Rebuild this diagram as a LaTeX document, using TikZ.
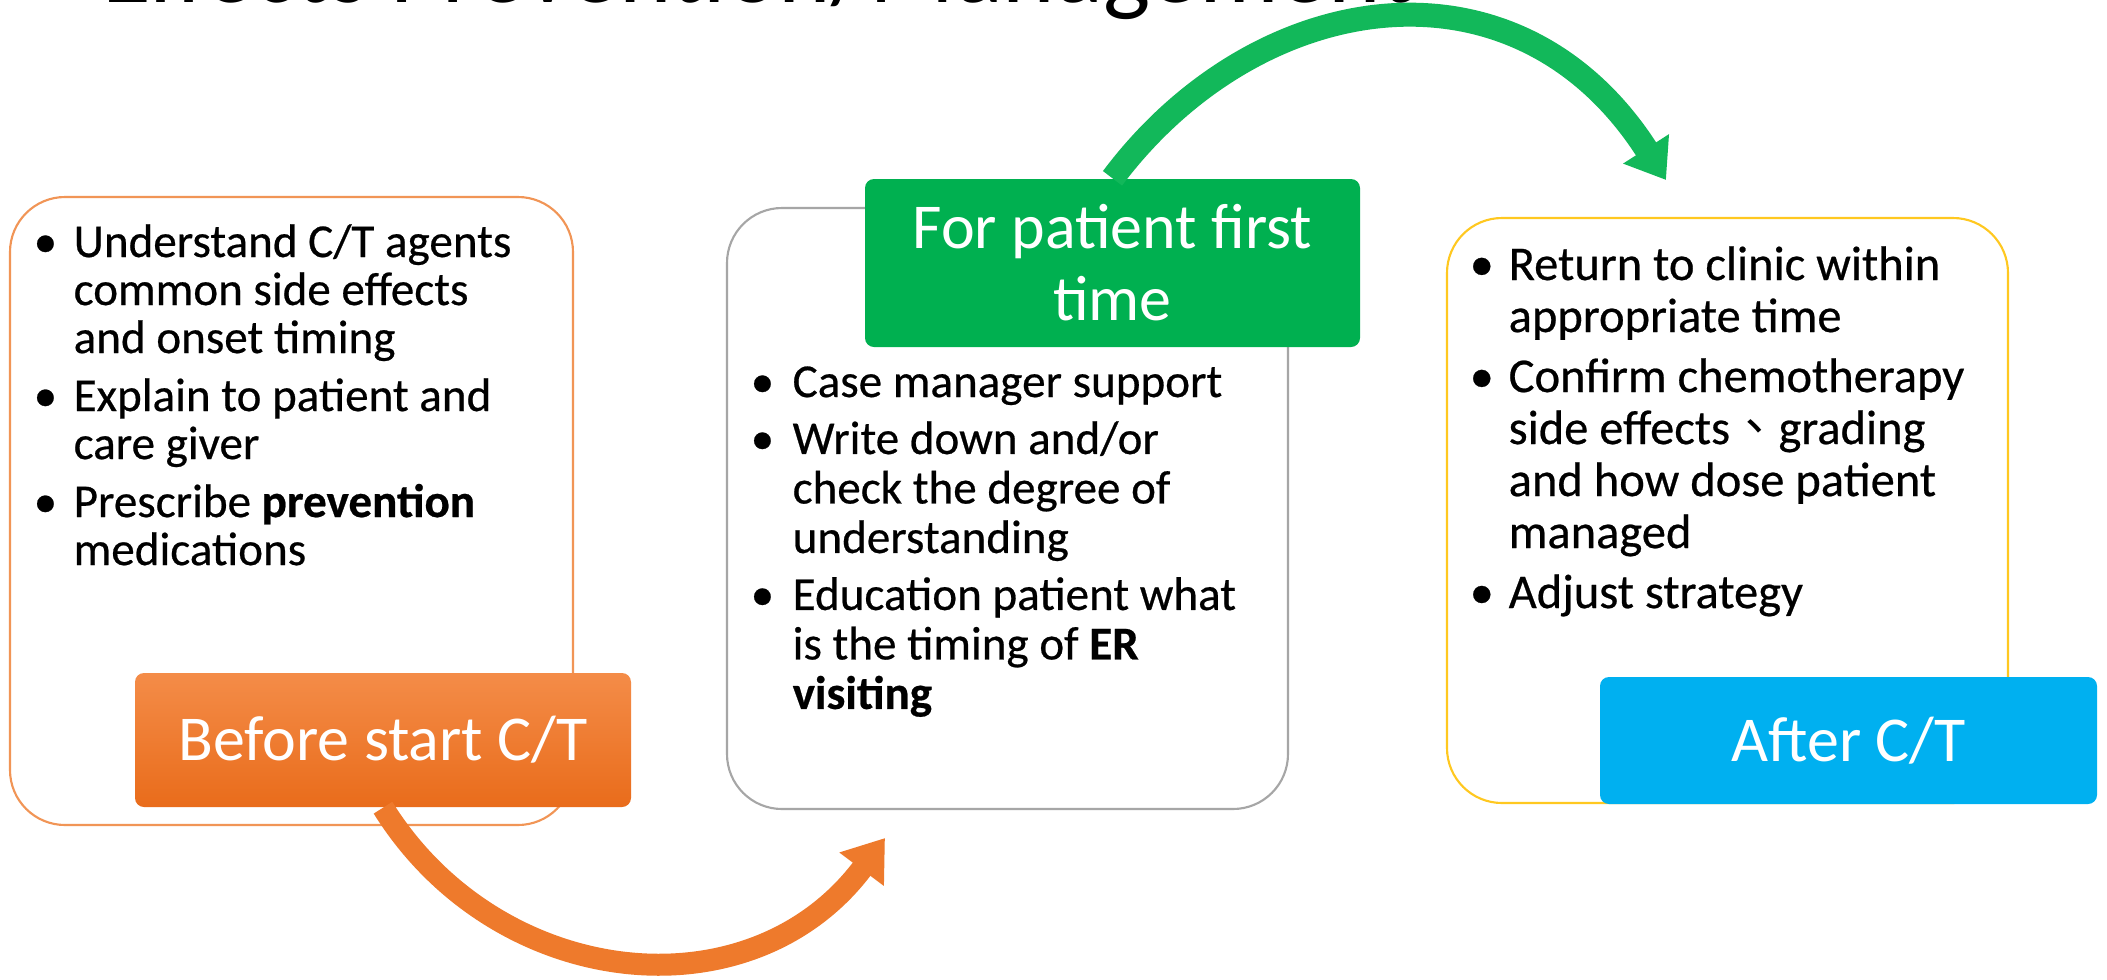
\documentclass[tikz,border=0pt]{standalone}
\usepackage{fontspec}
\setmainfont{Carlito}
\newfontfamily\bodyfont{Carlito}[FakeBold=0.5]
\newfontfamily\cjk{Noto Sans CJK TC}
\usetikzlibrary{arrows.meta}

\definecolor{ctorange}{HTML}{EE7A2C}
\definecolor{ctorangetop}{HTML}{F48C48}
\definecolor{ctorangebot}{HTML}{E96C1B}
\definecolor{ctgreen}{HTML}{00B050}
\definecolor{ctgreenarrow}{HTML}{12B85A}
\definecolor{ctblue}{HTML}{00B0F0}
\definecolor{ctyellow}{HTML}{FFC820}
\definecolor{ctgray}{HTML}{A6A6A6}

\begin{document}
\begin{tikzpicture}[x=0.1mm, y=-0.1mm,
  panel/.style={draw, line width=0.6pt, rounded corners=5.5mm, inner sep=0pt},
  stage/.style={rounded corners=0.9mm, text=white, inner sep=0pt, align=center,
    font=\fontsize{18.2}{20.5}\selectfont},
  bullets/.style={anchor=base west, inner sep=0pt},
  flow/.style={line width=2.2mm}]

\useasboundingbox (0,0) rectangle (2107,980);
\clip (0,0) rectangle (2107,980);
\fill[white] (0,0) rectangle (2107,980);

% heading, only its lower edge shows
\node[anchor=base west, inner sep=0pt, font=\fontsize{28.4}{30}\selectfont] (heading) at (102,2) {Effects Prevention/Management};

% the three panels
\node[panel, draw=ctorange!80, minimum width=56.3mm, minimum height=62.8mm] (before) at (291.5,511) {};
\node[panel, draw=ctgray, minimum width=56.1mm, minimum height=60.1mm] (first) at (1007.5,508.5) {};
\node[panel, draw=ctyellow, minimum width=56.1mm, minimum height=58.5mm] (after) at (1727.5,510.5) {};

% bullet texts
\node[bullets, font=\bodyfont\fontsize{13.4}{13.66}\selectfont] (beforetxt) at (33,257) {%
\begin{tabular}[t]{@{}p{4mm}@{}l@{}}
\textbullet & Understand C/T agents\\
 & common side effects\\
 & and onset timing\\[1mm]
\textbullet & Explain to patient and\\
 & care giver\\[1mm]
\textbullet & Prescribe \textbf{prevention}\\
 & medications
\end{tabular}};

\node[bullets, font=\bodyfont\fontsize{13.4}{14.08}\selectfont] (firsttxt) at (750,397) {%
\begin{tabular}[t]{@{}p{4.2mm}@{}l@{}}
\textbullet & Case manager support\\[0.75mm]
\textbullet & Write down and/or\\
 & check the degree of\\
 & understanding\\[0.75mm]
\textbullet & Education patient what\\
 & is the timing of \textbf{ER}\\
 & \textbf{visiting}
\end{tabular}};

\node[bullets, font=\bodyfont\fontsize{13.8}{14.8}\selectfont] (aftertxt) at (1469,280) {%
\begin{tabular}[t]{@{}p{3.9mm}@{}l@{}}
\textbullet & Return to clinic within\\
 & appropriate time\\[0.8mm]
\textbullet & Confirm chemotherapy\\
 & side effects{\cjk 、}grading\\
 & and how dose patient\\
 & managed\\[0.8mm]
\textbullet & Adjust strategy
\end{tabular}};

% stage tags
\node[stage, top color=ctorangetop, bottom color=ctorangebot, minimum width=49.6mm, minimum height=13.4mm] (beforetag) at (383,740) {Before start C/T};
\node[stage, fill=ctgreen, minimum width=49.5mm, minimum height=16.8mm] (firsttag) at (1112.5,263) {For patient first\\time};
\node[stage, fill=ctblue, minimum width=49.7mm, minimum height=12.7mm] (aftertag) at (1848.5,740.5) {After C/T};

% arrows between stages
\coordinate (firstin) at (885,838);
\coordinate (afterin) at (1666,180);
\draw[flow, ctorange, -{Triangle[length=3.9mm, width=5.3mm]}] (beforetag.south)
  .. controls +(114,183) and +(-135,180) .. (firstin);
\draw[flow, ctgreenarrow, line width=2.4mm, -{Triangle[length=3.7mm, width=5.2mm]}] (firsttag.north)
  .. controls +(144,-192) and +(-150,-234) .. (afterin);

\end{tikzpicture}
\end{document}
